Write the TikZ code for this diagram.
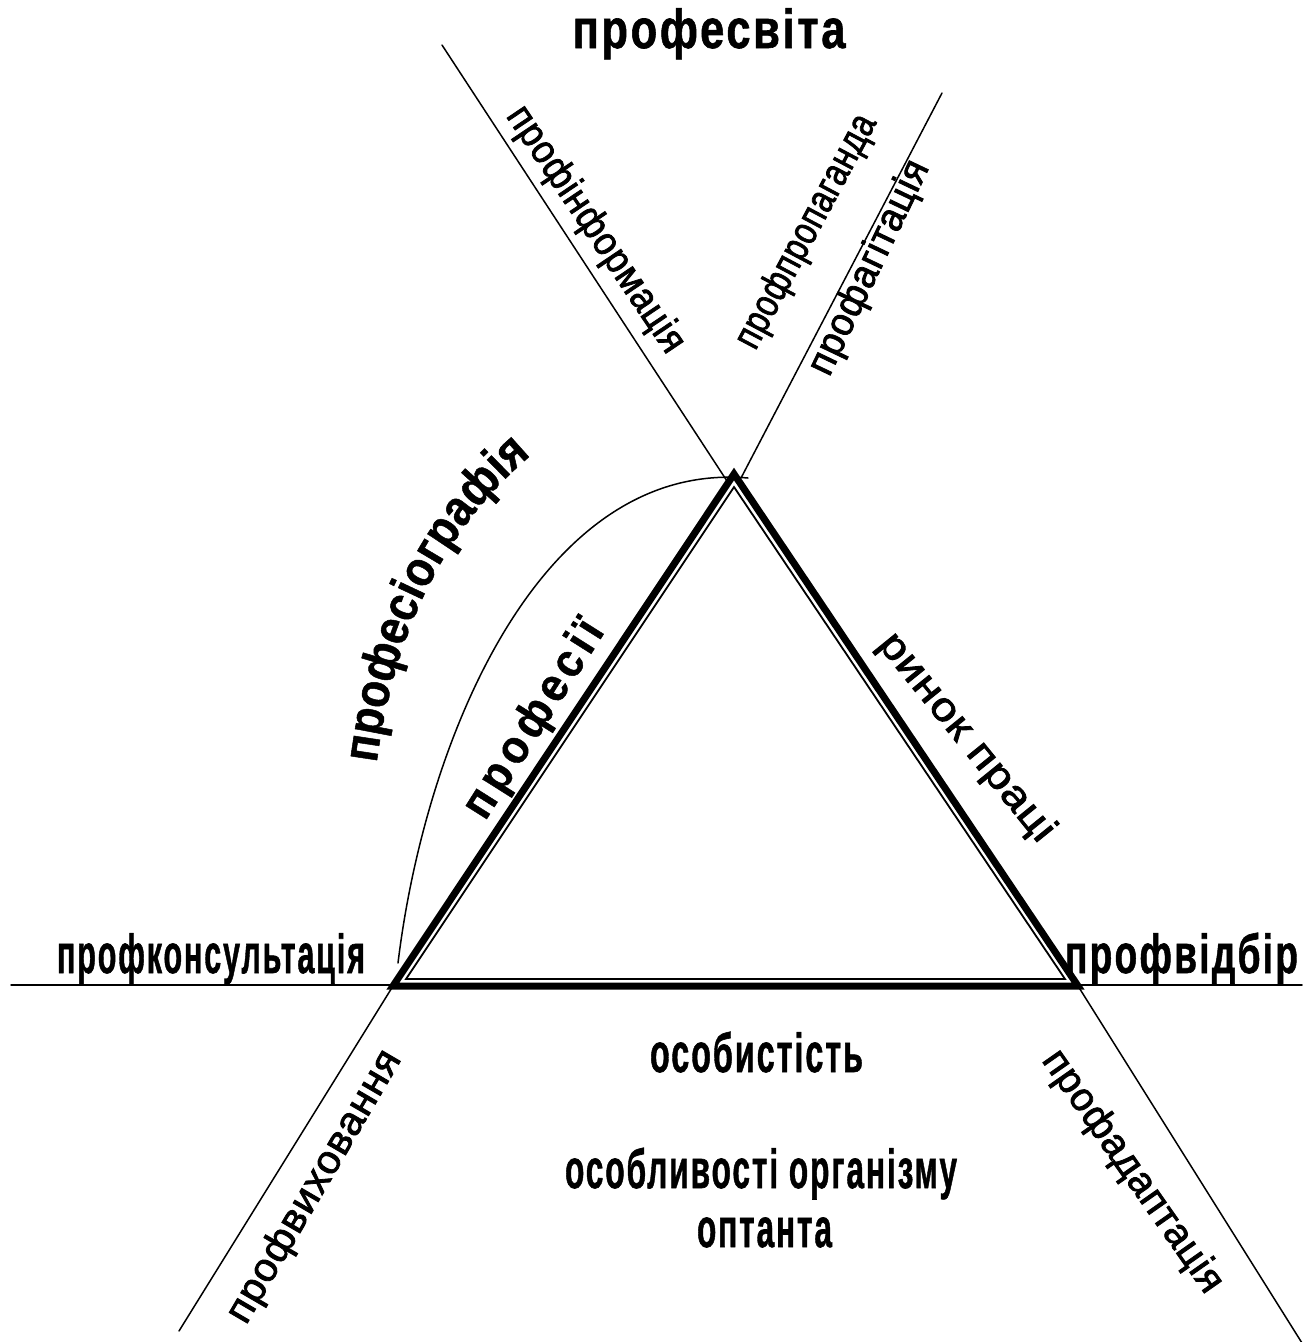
\documentclass[tikz,border=0pt]{standalone}
\usepackage{fontspec}
\setmainfont{Liberation Sans}
\newfontfamily\lblfont[LetterSpace=2, FakeBold=2]{Liberation Sans}
\newfontfamily\hdfont[LetterSpace=6, BoldFeatures={FakeBold=1.2}]{Liberation Sans}
\newfontfamily\sidefont[LetterSpace=12, BoldFeatures={FakeBold=1}]{Liberation Sans}
\newfontfamily\curvefont[FakeStretch=0.88, FakeBold=1]{Liberation Sans Bold}
\usetikzlibrary{decorations.text}

% condensed bold headings and rotated line labels, stretched to a given width
\newcommand\hd[2]{\resizebox{#1}{\height}{\hdfont\bfseries\fontsize{55}{55}\selectfont #2}}
\newcommand\linelbl[2]{\resizebox{#1}{\height}{\lblfont\fontsize{40}{40}\selectfont #2}}
\newcommand\boldlbl[2]{\resizebox{#1}{\height}{\sidefont\bfseries\fontsize{47}{47}\selectfont #2}}

\tikzset{
  thinline/.style={line width=1.5pt, line cap=round},
  frame/.style={line width=7pt, line join=miter},
  innerframe/.style={line width=1.8pt, line join=miter},
  hlabel/.style={anchor=base, inner sep=0pt},
  slabel/.style={inner sep=0pt},
}

\begin{document}
\begin{tikzpicture}[x=1pt,y=1pt]
\useasboundingbox (0,0) rectangle (1302,-1342);

% triangle corners (outer thick frame and inner thin frame)
\coordinate (A) at (734,-474);
\coordinate (BL) at (393,-986);
\coordinate (BR) at (1078,-986);
\coordinate (a) at (734,-487);
\coordinate (bl) at (406,-979);
\coordinate (br) at (1065,-979);

% free ends of the axes
\coordinate (e1) at (442,-45);
\coordinate (e1b) at (727,-481);
\coordinate (e2) at (942,-93);
\coordinate (e2b) at (741,-478);
\coordinate (e3) at (179,-1331);
\coordinate (e4) at (1302,-1343);
\coordinate (h1) at (11,-985);
\coordinate (h2) at (1302,-985);

% arc of the professiography
\coordinate (c0) at (398,-963);
\coordinate (c1) at (425,-740);
\coordinate (c2) at (540,-460);
\coordinate (c3) at (748,-478);

\draw[thinline] (h1) -- (h2);
\draw[thinline] (e1) -- (e1b);
\draw[thinline] (e2) -- (e2b);
\draw[thinline] (BL) -- (e3);
\draw[thinline] (BR) -- (e4);
\draw[thinline] (c0) .. controls (c1) and (c2) .. (c3);

\draw[frame] (A) -- (BL) -- (BR) -- cycle;
\draw[innerframe] (a) -- (bl) -- (br) -- cycle;

% horizontal labels
\node[hlabel] (osvita) at (709,-48) {\hd{273pt}{професвіта}};
\node[hlabel] (kons) at (211,-973) {\hd{308pt}{профконсультація}};
\node[hlabel] (vidbir) at (1181.5,-973) {\hd{233pt}{профвідбір}};
\node[hlabel] (osob) at (756.5,-1072) {\hd{213pt}{особистість}};
\node[hlabel] (organ) at (761,-1188) {\hd{392pt}{особливості організму}};
\node[hlabel] (optant) at (764.5,-1247) {\hd{135pt}{оптанта}};

% labels along the axes and the sides
\node[slabel, rotate=-56] (inf) at (595,-230) {\linelbl{289pt}{профінформація}};
\node[slabel, rotate=62] (prop) at (807,-232) {\linelbl{259pt}{профпропаганда}};
\node[slabel, rotate=64.5] (agit) at (870,-268) {\linelbl{233pt}{профагітація}};
\node[slabel, rotate=59.7] (vykh) at (315,-1187) {\linelbl{309pt}{профвиховання}};
\node[slabel, rotate=-55] (adapt) at (1132,-1172) {\linelbl{287pt}{профадаптація}};
\node[slabel, rotate=-51] (rynok) at (966,-738) {\linelbl{257pt}{ринок праці}};
\node[slabel, rotate=57.7] (prof) at (535,-720) {\boldlbl{225pt}{професії}};

% curved title
\path[decorate, decoration={text along path,
  text={|\curvefont\fontsize{50}{50}\selectfont|професіографія},
  text align=center}]
  (376,-768) .. controls (392,-640) and (440,-530) .. (535,-452);
\end{tikzpicture}
\end{document}
